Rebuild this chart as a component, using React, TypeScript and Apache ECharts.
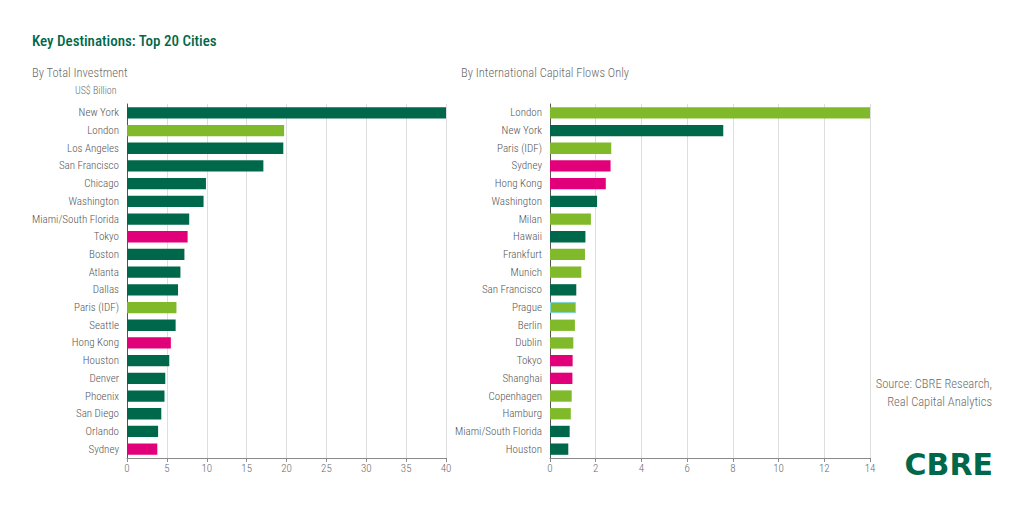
import React, { useEffect, useRef } from 'react';
import * as echarts from 'echarts';

// Colours by region of the city
const regionColors: Record<string, string> = {
  americas: '#00684A',
  emea: '#80BA2A',
  apac: '#E2007A',
};

const FONT = "'Roboto Condensed', 'Open Sans', sans-serif";

// By total investment (US$ billion), top to bottom
const totalCities = [
  'New York', 'London', 'Los Angeles', 'San Francisco', 'Chicago',
  'Washington', 'Miami/South Florida', 'Tokyo', 'Boston', 'Atlanta',
  'Dallas', 'Paris (IDF)', 'Seattle', 'Hong Kong', 'Houston',
  'Denver', 'Phoenix', 'San Diego', 'Orlando', 'Sydney',
];
const totalValues = [
  40.0, 19.7, 19.6, 17.1, 9.9,
  9.6, 7.8, 7.6, 7.2, 6.7,
  6.4, 6.2, 6.1, 5.5, 5.3,
  4.8, 4.7, 4.3, 3.9, 3.8,
];
const totalRegions = [
  'americas', 'emea', 'americas', 'americas', 'americas',
  'americas', 'americas', 'apac', 'americas', 'americas',
  'americas', 'emea', 'americas', 'apac', 'americas',
  'americas', 'americas', 'americas', 'americas', 'apac',
];

// By international capital flows only
const intlCities = [
  'London', 'New York', 'Paris (IDF)', 'Sydney', 'Hong Kong',
  'Washington', 'Milan', 'Hawaii', 'Frankfurt', 'Munich',
  'San Francisco', 'Prague', 'Berlin', 'Dublin', 'Tokyo',
  'Shanghai', 'Copenhagen', 'Hamburg', 'Miami/South Florida', 'Houston',
];
const intlValues = [
  14.0, 7.58, 2.68, 2.65, 2.44,
  2.06, 1.79, 1.55, 1.53, 1.37,
  1.15, 1.14, 1.09, 1.02, 0.99,
  0.98, 0.95, 0.91, 0.86, 0.80,
];
const intlRegions = [
  'emea', 'americas', 'emea', 'apac', 'apac',
  'americas', 'emea', 'americas', 'emea', 'emea',
  'americas', 'emea', 'emea', 'emea', 'apac',
  'apac', 'emea', 'emea', 'americas', 'americas',
];

const totalTicks = { min: 0, max: 40, interval: 5 };
const intlTicks = { min: 0, max: 14, interval: 2 };

const sourceLines = ['Source: CBRE Research,', 'Real Capital Analytics'];

function barData(values: number[], regions: string[], cities: string[]) {
  return values.map((v, i) => ({
    value: v,
    itemStyle: {
      color: regionColors[regions[i]],
      // the Prague bar carries a thin cyan outline in the source
      ...(cities[i] === 'Prague' ? { borderColor: '#7FD4E2', borderWidth: 1 } : {}),
    },
  }));
}

export default function App() {
  const chartRef = useRef<HTMLDivElement>(null);

  useEffect(() => {
    if (!chartRef.current) return;
    const chart = echarts.init(chartRef.current, null, { renderer: 'svg' });

    const valueAxis = (gridIndex: number, t: { min: number; max: number; interval: number }) => ({
      type: 'value' as const,
      gridIndex,
      min: t.min,
      max: t.max,
      interval: t.interval,
      axisLine: { show: true, lineStyle: { color: '#8a8a8a', width: 1 } },
      axisTick: { show: true, length: 4, lineStyle: { color: '#8a8a8a' } },
      axisLabel: { color: '#6b6b6b', fontFamily: FONT, fontSize: 11, fontWeight: 300, margin: 5 },
      splitLine: { show: true, lineStyle: { color: '#dedede', width: 1 } },
    });

    const categoryAxis = (gridIndex: number, data: string[]) => ({
      type: 'category' as const,
      gridIndex,
      data,
      inverse: true,
      axisLine: { show: true, lineStyle: { color: '#555555', width: 1 } },
      axisTick: { show: false },
      axisLabel: { color: '#555555', fontFamily: FONT, fontSize: 11, fontWeight: 300, margin: 8 },
      splitLine: { show: false },
    });

    const option: echarts.EChartsOption = {
      animation: false,
      backgroundColor: '#ffffff',
      title: [
        {
          text: 'Key Destinations: Top 20 Cities',
          left: 32,
          top: 33,
          padding: 0,
          textStyle: { color: '#00684A', fontFamily: FONT, fontSize: 15, fontWeight: 500 },
        },
        {
          text: 'By Total Investment',
          left: 32,
          top: 66,
          padding: 0,
          textStyle: { color: '#6b6b6b', fontFamily: FONT, fontSize: 12.5, fontWeight: 300 },
        },
        {
          text: 'US$ Billion',
          left: 75,
          top: 85,
          padding: 0,
          textStyle: { color: '#6b6b6b', fontFamily: FONT, fontSize: 10, fontWeight: 300 },
        },
        {
          text: 'By International Capital Flows Only',
          left: 461,
          top: 66,
          padding: 0,
          textStyle: { color: '#6b6b6b', fontFamily: FONT, fontSize: 12.5, fontWeight: 300 },
        },
      ],
      graphic: [
        ...sourceLines.map((line, i) => ({
          type: 'text' as const,
          right: 32,
          top: 377 + i * 18,
          style: {
            text: line,
            fill: '#6b6b6b',
            font: `300 12.5px ${FONT}`,
          },
        })),
        {
          type: 'text',
          right: 31,
          top: 449,
          style: {
            text: 'CBRE',
            fill: '#00684A',
            font: `bold 30px 'DejaVu Sans', sans-serif`,
          },
        },
      ],
      grid: [
        { left: 127, top: 104, width: 319, height: 354 },
        { left: 550, top: 104, width: 320, height: 354 },
      ],
      xAxis: [valueAxis(0, totalTicks), valueAxis(1, intlTicks)],
      yAxis: [categoryAxis(0, totalCities), categoryAxis(1, intlCities)],
      series: [
        {
          type: 'bar',
          xAxisIndex: 0,
          yAxisIndex: 0,
          barWidth: '64%',
          data: barData(totalValues, totalRegions, totalCities),
        },
        {
          type: 'bar',
          xAxisIndex: 1,
          yAxisIndex: 1,
          barWidth: '64%',
          data: barData(intlValues, intlRegions, intlCities),
        },
      ],
    };

    chart.setOption(option);

    return () => {
      chart.dispose();
    };
  }, []);

  return (
    <div
      ref={chartRef}
      style={{ position: 'fixed', left: 0, top: 0, width: '1024px', height: '506px' }}
    />
  );
}
